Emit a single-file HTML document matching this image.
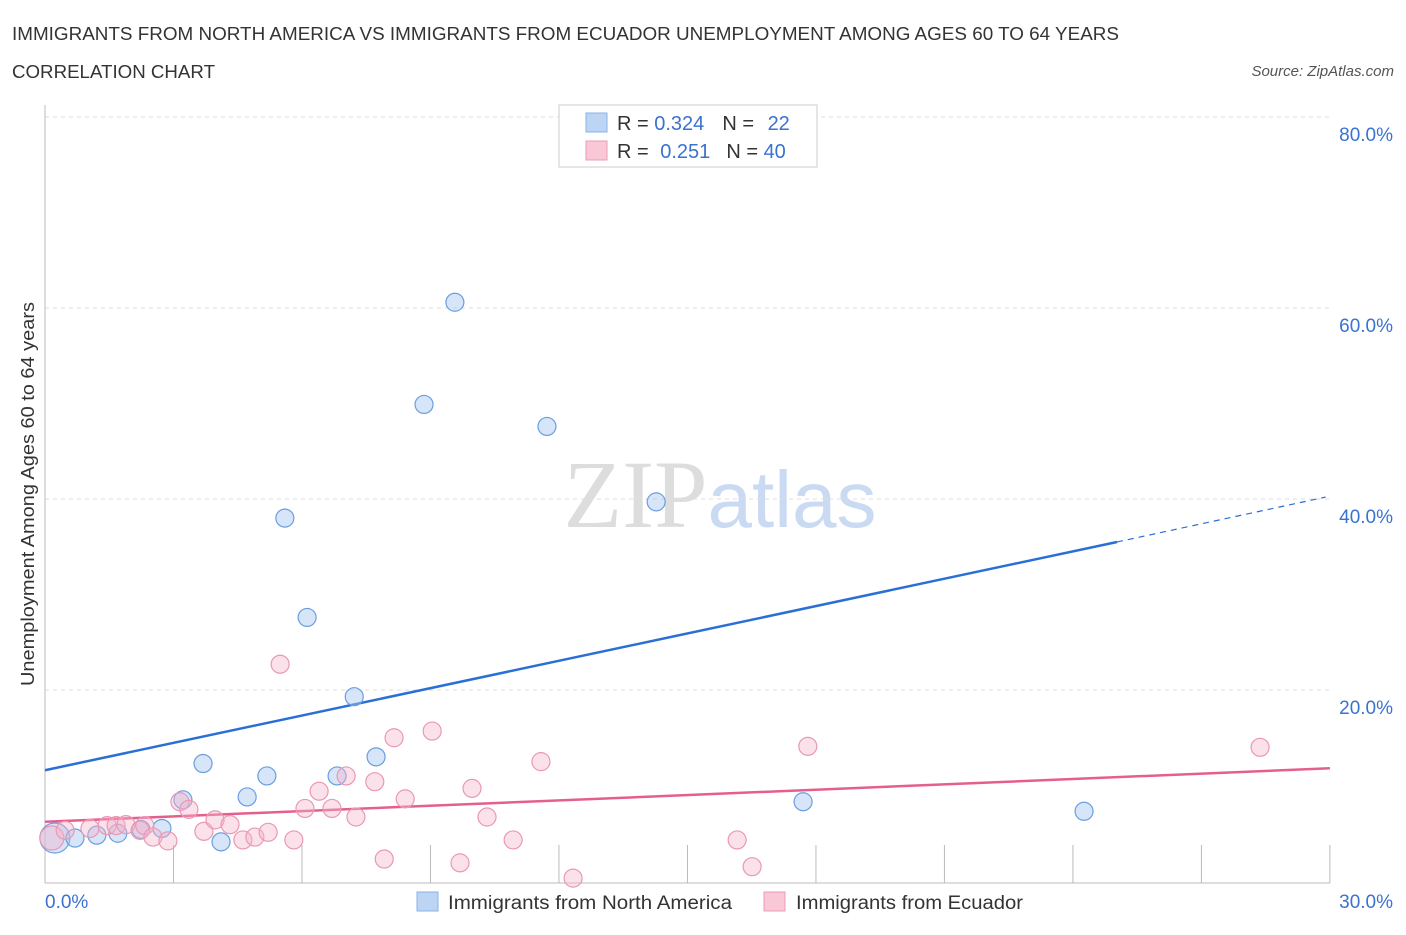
<!DOCTYPE html>
<html><head><meta charset="utf-8"><style>
body{margin:0;background:#fff;font-family:"Liberation Sans",sans-serif;}
</style></head><body>
<svg id="chart" width="1406" height="930" xmlns="http://www.w3.org/2000/svg" style="font-family:'Liberation Sans',sans-serif">
<text x="12" y="40" font-size="18" fill="#333" textLength="1107" lengthAdjust="spacingAndGlyphs">IMMIGRANTS FROM NORTH AMERICA VS IMMIGRANTS FROM ECUADOR UNEMPLOYMENT AMONG AGES 60 TO 64 YEARS</text>
<text x="12" y="78" font-size="18" fill="#333" textLength="203" lengthAdjust="spacingAndGlyphs">CORRELATION CHART</text>
<text x="1394" y="76" font-size="15" fill="#555" font-style="italic" text-anchor="end">Source: ZipAtlas.com</text>
<text x="720" y="527" font-size="96" text-anchor="middle"><tspan fill="#ddd" font-family="Liberation Serif">ZIP</tspan><tspan fill="#c9daf2" font-size="80">atlas</tspan></text>
<g id="grid"></g><g id="axes"></g><g id="trend"></g><g id="pts"></g>
<text transform="translate(34,494) rotate(-90)" font-size="18" fill="#333" text-anchor="middle" textLength="384" lengthAdjust="spacingAndGlyphs">Unemployment Among Ages 60 to 64 years</text>
<g>
<rect x="559" y="105" width="258" height="62" fill="#fff" stroke="#ccc"/>
<rect x="586" y="113" width="21" height="19" fill="#bcd5f5" stroke="#8ab2e8"/>
<text x="617" y="130" font-size="20" fill="#333">R = <tspan fill="#3a72d0">0.324</tspan><tspan dx="18">N = </tspan><tspan dx="8" fill="#3a72d0">22</tspan></text>
<rect x="586" y="141" width="21" height="19" fill="#f9c7d5" stroke="#ec9cb6"/>
<text x="617" y="158" font-size="20" fill="#333">R = <tspan dx="6" fill="#3a72d0">0.251</tspan><tspan dx="16">N = </tspan><tspan fill="#3a72d0">40</tspan></text>
</g>
<g>
<rect x="417" y="892" width="21" height="19" fill="#bcd5f5" stroke="#8ab2e8"/>
<text x="448" y="909" font-size="19" fill="#333" textLength="284" lengthAdjust="spacingAndGlyphs">Immigrants from North America</text>
<rect x="764" y="892" width="21" height="19" fill="#f9c7d5" stroke="#ec9cb6"/>
<text x="796" y="909" font-size="19" fill="#333" textLength="227" lengthAdjust="spacingAndGlyphs">Immigrants from Ecuador</text>
</g>
</svg>
<script>
const yTicks=[20,40,60,80];
const yTickLabels=["20.0%","40.0%","60.0%","80.0%"];
const xTickLabels=["0.0%","30.0%"];
const blueX=[0.23,0.70,1.21,1.70,2.24,2.73,3.22,3.69,4.11,4.72,5.18,5.60,6.12,6.82,7.22,7.73,8.85,9.57,11.72,14.27,17.70,24.26];
const blueY=[4.5,4.5,4.8,5.0,5.4,5.5,8.5,12.3,4.1,8.8,11.0,38.0,27.6,11.0,19.3,13.0,49.9,60.6,47.6,39.7,8.3,7.3];
const pinkX=[0.16,0.47,1.05,1.45,1.66,1.89,2.22,2.33,2.52,2.87,3.15,3.36,3.71,3.97,4.32,4.62,4.90,5.21,5.49,5.81,6.07,6.40,6.70,7.03,7.26,7.70,7.92,8.15,8.41,9.04,9.69,9.97,10.32,10.93,11.58,12.33,16.16,16.51,17.81,28.37];
const pinkY=[4.5,5.3,5.5,5.8,5.8,5.9,5.3,5.8,4.6,4.2,8.3,7.5,5.2,6.4,5.9,4.3,4.6,5.1,22.7,4.3,7.6,9.4,7.6,11.0,6.7,10.4,2.3,15.0,8.6,15.7,1.9,9.7,6.7,4.3,12.5,0.3,4.3,1.5,14.1,14.0];
const blueTrend=[[0,11.6],[25.03,35.5],[29.9,40.2]];
const pinkTrend=[[0,6.2],[30,11.8]];
const NS="http://www.w3.org/2000/svg";
const X=v=>45+v*42.83, Y=v=>881-v*9.55;
function mk(t,a,p){const e=document.createElementNS(NS,t);for(const k in a)e.setAttribute(k,a[k]);document.getElementById(p).appendChild(e);return e;}
yTicks.forEach((t,i)=>{
 const g=mk('line',{x1:45,x2:1330,y1:Y(t),y2:Y(t),stroke:'#ddd','stroke-dasharray':'4,4'},'grid');
 
 
 const l=mk('text',{x:1393,y:Y(t)+24,'font-size':19,fill:'#3a72d0','text-anchor':'end'},'axes');
 l.textContent=yTickLabels[i];
 
 
});
const ya=mk('line',{x1:45,x2:45,y1:105,y2:883,stroke:'#bbb'},'axes');


const xa=mk('line',{x1:45,x2:1330,y1:883,y2:883,stroke:'#bbb'},'axes');


for(let i=1;i<=10;i++){const t=mk('line',{x1:X(i*3),x2:X(i*3),y1:845,y2:883,stroke:'#bbb'},'axes');
 
 }
[[0,'start',45],[1,'end',1393]].forEach(([i,a,x])=>{const l=mk('text',{x:x,y:908,'font-size':19,fill:'#3a72d0','text-anchor':a},'axes');l.textContent=xTickLabels[i];
 
 });
const b1=mk('line',{x1:X(blueTrend[0][0]),y1:Y(blueTrend[0][1]),x2:X(blueTrend[1][0]),y2:Y(blueTrend[1][1]),stroke:'#2a6fd6','stroke-width':2.5},'trend');


const b2=mk('line',{x1:X(blueTrend[1][0]),y1:Y(blueTrend[1][1]),x2:X(blueTrend[2][0]),y2:Y(blueTrend[2][1]),stroke:'#2a6fd6','stroke-width':1.2,'stroke-dasharray':'6,5'},'trend');


const p1=mk('line',{x1:X(pinkTrend[0][0]),y1:Y(pinkTrend[0][1]),x2:X(pinkTrend[1][0]),y2:Y(pinkTrend[1][1]),stroke:'#e55f8e','stroke-width':2.5},'trend');


blueX.forEach((x,i)=>{const c=mk('circle',{cx:X(x),cy:Y(blueY[i]),r:i==0?15:9,fill:'rgba(165,198,240,0.45)',stroke:'#6b9ee0','stroke-width':1.2},'pts');
 
 });
pinkX.forEach((x,i)=>{const c=mk('circle',{cx:X(x),cy:Y(pinkY[i]),r:i==0?12:9,fill:'rgba(246,180,202,0.4)',stroke:'#ea98b3','stroke-width':1.2},'pts');
 
 });
</script>
</body></html>
